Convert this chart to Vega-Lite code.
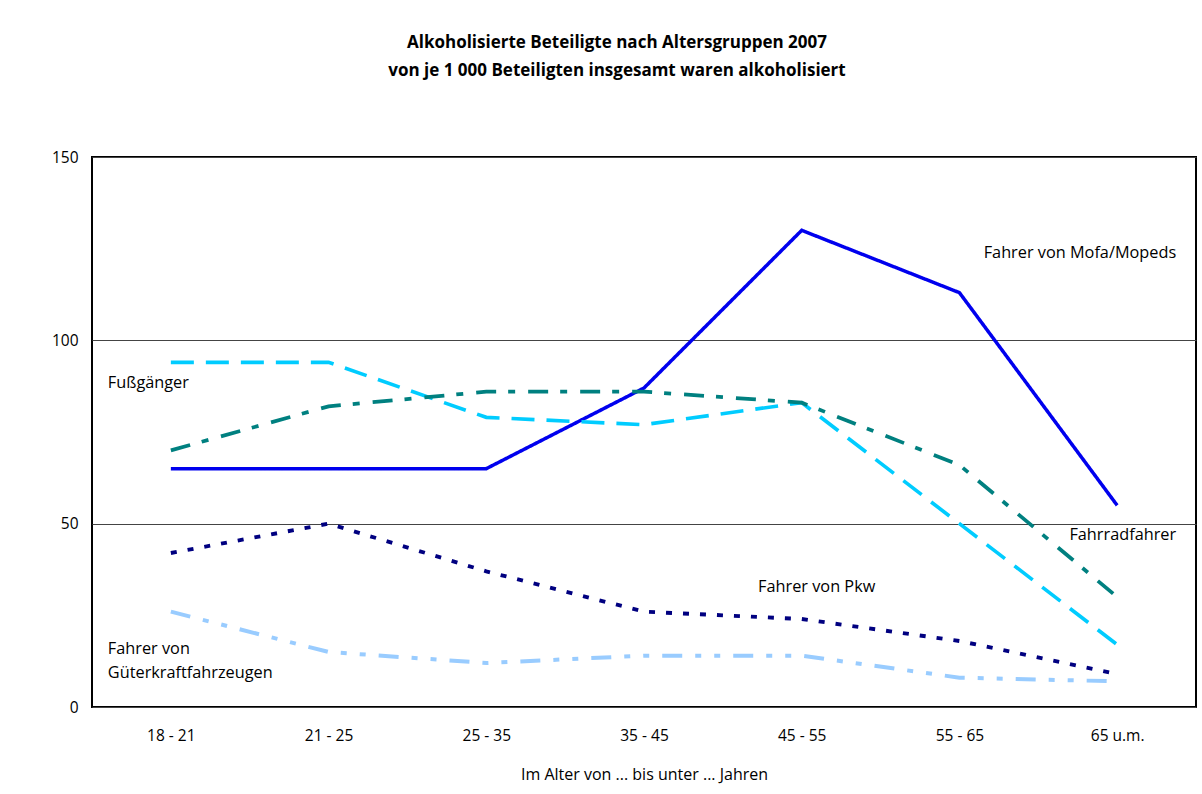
{
  "$schema": "https://vega.github.io/schema/vega-lite/v6.json",
  "width": 1104,
  "height": 550,
  "autosize": {"type": "none"},
  "padding": {"left": 92, "top": 157, "right": 6, "bottom": 87},
  "background": "white",
  "config": {
    "font": "Open Sans",
    "view": {"stroke": "black", "strokeWidth": 2},
    "axis": {"labelFont": "Open Sans", "titleFont": "Open Sans", "labelColor": "#000", "titleColor": "#000"}
  },
  "title": {
    "text": ["Alkoholisierte Beteiligte nach Altersgruppen 2007", "von je 1 000 Beteiligten insgesamt waren alkoholisiert"],
    "anchor": "middle",
    "frame": "group",
    "fontSize": 17,
    "fontWeight": "bold",
    "lineHeight": 28,
    "offset": 70,
    "dx": -27,
    "color": "#000"
  },
  "datasets": {
    "series": [
      {"age": "18 - 21", "series": "Fahrer von Mofa/Mopeds", "value": 65},
      {"age": "21 - 25", "series": "Fahrer von Mofa/Mopeds", "value": 65},
      {"age": "25 - 35", "series": "Fahrer von Mofa/Mopeds", "value": 65},
      {"age": "35 - 45", "series": "Fahrer von Mofa/Mopeds", "value": 87},
      {"age": "45 - 55", "series": "Fahrer von Mofa/Mopeds", "value": 130},
      {"age": "55 - 65", "series": "Fahrer von Mofa/Mopeds", "value": 113},
      {"age": "65 u.m.", "series": "Fahrer von Mofa/Mopeds", "value": 55},
      {"age": "18 - 21", "series": "Fußgänger", "value": 94},
      {"age": "21 - 25", "series": "Fußgänger", "value": 94},
      {"age": "25 - 35", "series": "Fußgänger", "value": 79},
      {"age": "35 - 45", "series": "Fußgänger", "value": 77},
      {"age": "45 - 55", "series": "Fußgänger", "value": 83},
      {"age": "55 - 65", "series": "Fußgänger", "value": 50},
      {"age": "65 u.m.", "series": "Fußgänger", "value": 17},
      {"age": "18 - 21", "series": "Fahrradfahrer", "value": 70},
      {"age": "21 - 25", "series": "Fahrradfahrer", "value": 82},
      {"age": "25 - 35", "series": "Fahrradfahrer", "value": 86},
      {"age": "35 - 45", "series": "Fahrradfahrer", "value": 86},
      {"age": "45 - 55", "series": "Fahrradfahrer", "value": 83},
      {"age": "55 - 65", "series": "Fahrradfahrer", "value": 66},
      {"age": "65 u.m.", "series": "Fahrradfahrer", "value": 30},
      {"age": "18 - 21", "series": "Fahrer von Pkw", "value": 42},
      {"age": "21 - 25", "series": "Fahrer von Pkw", "value": 50},
      {"age": "25 - 35", "series": "Fahrer von Pkw", "value": 37},
      {"age": "35 - 45", "series": "Fahrer von Pkw", "value": 26},
      {"age": "45 - 55", "series": "Fahrer von Pkw", "value": 24},
      {"age": "55 - 65", "series": "Fahrer von Pkw", "value": 18},
      {"age": "65 u.m.", "series": "Fahrer von Pkw", "value": 9},
      {"age": "18 - 21", "series": "Fahrer von Güterkraftfahrzeugen", "value": 26},
      {"age": "21 - 25", "series": "Fahrer von Güterkraftfahrzeugen", "value": 15},
      {"age": "25 - 35", "series": "Fahrer von Güterkraftfahrzeugen", "value": 12},
      {"age": "35 - 45", "series": "Fahrer von Güterkraftfahrzeugen", "value": 14},
      {"age": "45 - 55", "series": "Fahrer von Güterkraftfahrzeugen", "value": 14},
      {"age": "55 - 65", "series": "Fahrer von Güterkraftfahrzeugen", "value": 8},
      {"age": "65 u.m.", "series": "Fahrer von Güterkraftfahrzeugen", "value": 7}
    ]
  },
  "layer": [
    {
      "data": {"name": "series"},
      "mark": {"type": "line", "strokeCap": "butt", "strokeJoin": "miter"},
      "encoding": {
        "x": {
          "field": "age", "type": "ordinal",
          "scale": {"type": "point", "padding": 0.5},
          "sort": ["18 - 21", "21 - 25", "25 - 35", "35 - 45", "45 - 55", "55 - 65", "65 u.m."],
          "axis": {
            "title": "Im Alter von ... bis unter ... Jahren",
            "labelAngle": 0, "ticks": false, "domain": false, "grid": false,
            "labelFontSize": 15.5, "labelPadding": 21,
            "titleFontSize": 16, "titleFontWeight": "normal", "titlePadding": 23
          }
        },
        "y": {
          "field": "value", "type": "quantitative",
          "scale": {"domain": [0, 150], "nice": false},
          "axis": {
            "title": null, "values": [0, 50, 100, 150],
            "ticks": false, "domain": false,
            "grid": true, "gridColor": "#444", "gridWidth": 1, "gridOpacity": 1,
            "labelFontSize": 15.5, "labelPadding": 14
          }
        },
        "color": {
          "field": "series", "type": "nominal", "legend": null,
          "scale": {
            "domain": ["Fahrer von Güterkraftfahrzeugen", "Fahrer von Pkw", "Fahrradfahrer", "Fußgänger", "Fahrer von Mofa/Mopeds"],
            "range": ["#99ccff", "#000080", "#008080", "#00ccff", "#0000ee"]
          }
        },
        "strokeDash": {
          "field": "series", "type": "nominal", "legend": null,
          "scale": {
            "domain": ["Fahrer von Güterkraftfahrzeugen", "Fahrer von Pkw", "Fahrradfahrer", "Fußgänger", "Fahrer von Mofa/Mopeds"],
            "range": [[20, 13, 6, 13, 6, 13], [6, 11], [20, 12, 7, 13], [23, 12], [1, 0]]
          }
        },
        "strokeWidth": {
          "field": "series", "type": "nominal", "legend": null,
          "scale": {
            "domain": ["Fahrer von Güterkraftfahrzeugen", "Fahrer von Pkw", "Fahrradfahrer", "Fußgänger", "Fahrer von Mofa/Mopeds"],
            "range": [4, 3.5, 3.5, 4, 3]
          }
        },
        "order": {"field": "age", "type": "ordinal"}
      }
    },
    {
      "data": {"values": [{"age": "18 - 21", "value": 88.4, "label": "Fußgänger"}]},
      "mark": {"type": "text", "align": "left", "baseline": "middle", "dx": -63, "fontSize": 16.3, "color": "#000"},
      "encoding": {"x": {"field": "age", "type": "ordinal"}, "y": {"field": "value", "type": "quantitative"}, "text": {"field": "label"}}
    },
    {
      "data": {"values": [{"age": "18 - 21", "value": 15.8, "label": "Fahrer von\nGüterkraftfahrzeugen"}]},
      "mark": {"type": "text", "align": "left", "baseline": "middle", "dx": -63, "fontSize": 16.3, "lineBreak": "\n", "lineHeight": 24, "color": "#000"},
      "encoding": {"x": {"field": "age", "type": "ordinal"}, "y": {"field": "value", "type": "quantitative"}, "text": {"field": "label"}}
    },
    {
      "data": {"values": [{"age": "65 u.m.", "value": 123.8, "label": "Fahrer von Mofa/Mopeds"}, {"age": "65 u.m.", "value": 46.9, "label": "Fahrradfahrer"}]},
      "mark": {"type": "text", "align": "right", "baseline": "middle", "dx": 59, "fontSize": 16.3, "color": "#000"},
      "encoding": {"x": {"field": "age", "type": "ordinal"}, "y": {"field": "value", "type": "quantitative"}, "text": {"field": "label"}}
    },
    {
      "data": {"values": [{"age": "45 - 55", "value": 32.7, "label": "Fahrer von Pkw"}]},
      "mark": {"type": "text", "align": "center", "baseline": "middle", "dx": 15, "fontSize": 16.3, "color": "#000"},
      "encoding": {"x": {"field": "age", "type": "ordinal"}, "y": {"field": "value", "type": "quantitative"}, "text": {"field": "label"}}
    }
  ]
}
